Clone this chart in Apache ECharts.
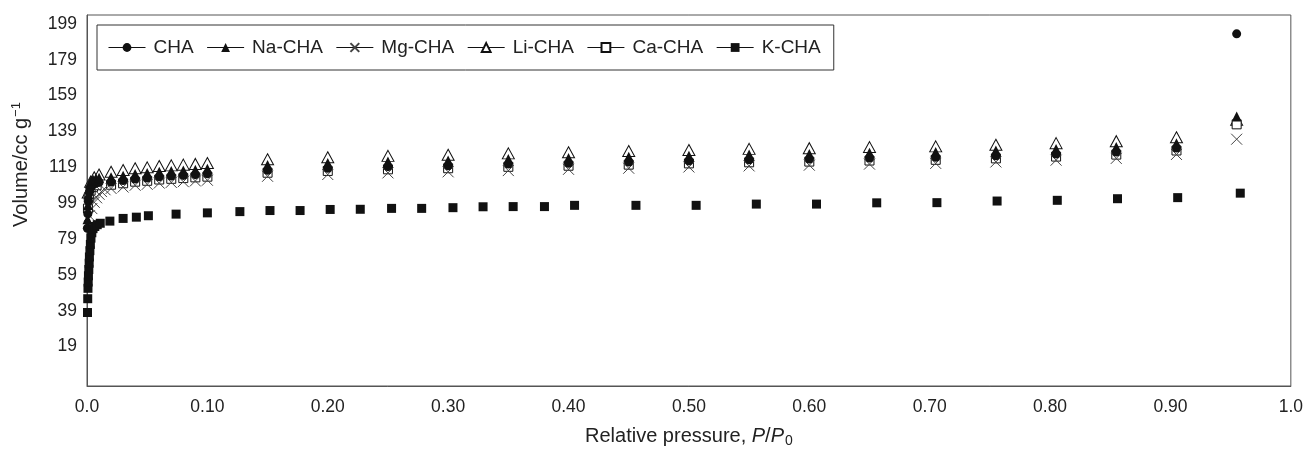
<!DOCTYPE html>
<html>
<head>
<meta charset="utf-8">
<script src="https://cdn.jsdelivr.net/npm/echarts@6/dist/echarts.min.js"></script>
<style>html,body{margin:0;padding:0;background:#fff}#c{width:1306px;height:453px}</style>
</head>
<body>
<div id="c"></div>
<script>
// ---- data ----
const seriesNames = ['CHA', 'Na-CHA', 'Mg-CHA', 'Li-CHA', 'Ca-CHA', 'K-CHA'];
const xTicks = [0, 0.1, 0.2, 0.3, 0.4, 0.5, 0.6, 0.7, 0.8, 0.9, 1.0];
const yTicks = [19, 39, 59, 79, 99, 119, 139, 159, 179, 199];

// common relative pressures of the upper five isotherms (after the low-pressure region)
const pMain = [0.02, 0.03, 0.04, 0.05, 0.06, 0.07, 0.08, 0.09, 0.10, 0.15, 0.20, 0.25, 0.30, 0.35, 0.40, 0.45, 0.50, 0.55, 0.60, 0.65, 0.705, 0.755, 0.805, 0.855, 0.905, 0.955];

const chaLowP = [0.0003, 0.0007, 0.0012, 0.002, 0.003, 0.0045, 0.007, 0.01];
const chaLowV = [85, 93, 100, 105, 107.5, 109, 110, 110.6];
const chaMain = [110.8, 111.6, 112.5, 113.0, 113.7, 114.2, 114.5, 114.9, 115.4, 117.4, 118.5, 119.4, 119.9, 120.8, 121.3, 122.0, 122.6, 123.2, 123.6, 124.2, 124.6, 125.5, 126.4, 127.5, 129.8, 193.5];

const naLowP = [0.0004, 0.0008, 0.0012, 0.0018, 0.0025, 0.0035, 0.005, 0.0075, 0.01];
const naLowV = [90, 98, 104, 107.5, 110, 111.5, 112.2, 112.8, 113.2];
const naMain = [113.5, 114.3, 115.3, 115.8, 116.5, 116.9, 117.3, 117.7, 118.2, 120.3, 121.4, 122.2, 122.8, 123.6, 124.2, 124.9, 125.5, 126.1, 126.5, 127.1, 127.5, 128.4, 129.3, 130.4, 132.4, 147.3];

const mgLowP = [0.002, 0.004, 0.006, 0.008, 0.010, 0.012, 0.015];
const mgLowV = [92, 96, 99.5, 102, 104, 105.5, 106.5];
const mgMain = [107.2, 108.0, 109.0, 109.5, 110.2, 110.6, 111.0, 111.4, 111.8, 114.0, 115.0, 115.9, 116.5, 117.2, 117.9, 118.5, 119.2, 119.8, 120.2, 120.8, 121.2, 122.0, 123.0, 124.0, 126.2, 134.7];

const liLowP = [0.001, 0.003, 0.006, 0.01];
const liLowV = [105, 111, 113.5, 115];
const liMain = [116.5, 117.5, 118.5, 119.0, 119.7, 120.1, 120.5, 120.9, 121.4, 123.5, 124.6, 125.4, 126.0, 126.8, 127.4, 128.1, 128.7, 129.3, 129.7, 130.3, 130.7, 131.6, 132.5, 133.6, 135.8, 145.5];

const caLowP = [0.0008, 0.0015, 0.003, 0.005, 0.008];
const caLowV = [96, 102, 106, 108, 109];
const caMain = [109.3, 110.1, 111.0, 111.5, 112.2, 112.6, 113.0, 113.4, 113.8, 116.0, 117.0, 117.9, 118.5, 119.3, 119.9, 120.5, 121.2, 121.8, 122.2, 122.8, 123.2, 124.0, 125.0, 126.1, 128.4, 143.0];

const kP = [0.0004, 0.0006, 0.0008, 0.001, 0.0012, 0.0015, 0.0018, 0.002, 0.0024, 0.0028, 0.0033, 0.004, 0.005, 0.0065, 0.0085, 0.011,
  0.019, 0.030, 0.041, 0.051, 0.074, 0.100, 0.127, 0.152, 0.177, 0.202, 0.227, 0.253, 0.278, 0.304, 0.329, 0.354, 0.380, 0.405,
  0.456, 0.506, 0.556, 0.606, 0.656, 0.706, 0.756, 0.806, 0.856, 0.906, 0.958];
const kV = [38, 45.7, 51.5, 55, 58.5, 62, 65.5, 69, 72.5, 76, 79.5, 82.5, 84.8, 86, 87, 87.8,
  89.0, 90.5, 91.2, 92.0, 92.9, 93.6, 94.3, 94.9, 94.9, 95.5, 95.6, 96.1, 96.1, 96.5, 97.0, 97.1, 97.1, 97.8,
  97.8, 97.8, 98.5, 98.5, 99.2, 99.3, 100.2, 100.6, 101.5, 102.1, 104.6];

// ---- build ----
function pairs(ps, vs) { return ps.map((p, i) => [p, vs[i]]); }
const crossPath = 'path://M0,0 L10,10 M10,0 L0,10';

function mk(name, data, symbol, size, itemStyle) {
  return {
    name, type: 'line', data, symbol, symbolSize: size, showSymbol: true, showAllSymbol: true,
    lineStyle: { width: 0, opacity: 0 }, itemStyle, clip: false,
    emphasis: { disabled: true }, animation: false
  };
}

const series = [
  mk('Li-CHA', pairs(liLowP, liLowV).concat(pairs(pMain, liMain)), 'triangle', [12, 11], { color: '#fff', borderColor: '#111', borderWidth: 1, opacity: 1 }),
  mk('Ca-CHA', pairs(caLowP, caLowV).concat(pairs(pMain, caMain)), 'rect', 9, { color: '#fff', borderColor: '#111', borderWidth: 1, opacity: 1 }),
  mk('Mg-CHA', pairs(mgLowP, mgLowV).concat(pairs(pMain, mgMain)), crossPath, 11, { color: 'none', borderColor: '#444', borderWidth: 1, opacity: 1 }),
  mk('CHA', pairs(chaLowP, chaLowV).concat(pairs(pMain, chaMain)), 'circle', 9, { color: '#111', borderWidth: 0, opacity: 1 }),
  mk('Na-CHA', pairs(naLowP, naLowV).concat(pairs(pMain, naMain)), 'triangle', 10, { color: '#111', borderWidth: 0, opacity: 1 }),
  mk('K-CHA', pairs(kP, kV), 'rect', 9, { color: '#111', borderWidth: 0, opacity: 1 })
];

const chart = echarts.init(document.getElementById('c'), null, { renderer: 'canvas' });
chart.setOption({
  animation: false,
  backgroundColor: '#fff',
  textStyle: { fontFamily: 'Liberation Sans, Arial, sans-serif' },
  grid: { left: 87, right: 14, top: 15, bottom: 65, show: true, borderColor: '#555', borderWidth: 1, backgroundColor: 'transparent' },
  legend: {
    data: seriesNames,
    left: 97, top: 25,
    orient: 'horizontal',
    borderColor: '#333', borderWidth: 1, borderRadius: 0,
    padding: [13, 13, 13, 11],
    itemGap: 13, itemWidth: 37, itemHeight: 11,
    textStyle: { fontSize: 19, color: '#222', padding: [0, 0, 0, 3] },
    lineStyle: { color: '#111', width: 1, opacity: 1, type: 'solid' },
    selectedMode: false
  },
  xAxis: {
    type: 'value', min: 0, max: 1, interval: 0.1,
    axisLine: { show: true, onZero: false, lineStyle: { color: '#555', width: 1 } },
    axisTick: { show: false },
    splitLine: { show: false },
    axisLabel: {
      fontSize: 17.5, color: '#222', margin: 12,
      customValues: xTicks,
      formatter: v => (Math.abs(v) < 1e-9 ? '0.0' : Math.abs(v - 1) < 1e-9 ? '1.0' : v.toFixed(2))
    },
    name: '{n|Relative pressure, }{i|P}{n|/}{i|P}{sub|0}',
    nameLocation: 'middle', nameGap: 38,
    nameTextStyle: {
      rich: {
        n: { fontSize: 20, color: '#222' },
        i: { fontSize: 20, color: '#222', fontStyle: 'italic' },
        sub: { fontSize: 14, color: '#222', padding: [10, 0, 0, 1] }
      }
    }
  },
  yAxis: {
    type: 'value', min: -3, max: 204,
    axisLine: { show: true, onZero: false, lineStyle: { color: '#555', width: 1 } },
    axisTick: { show: false },
    splitLine: { show: false },
    axisLabel: { fontSize: 17.5, color: '#222', margin: 10, customValues: yTicks },
    name: '{n|Volume/cc g}{sup|−1}',
    nameLocation: 'middle', nameRotate: 90, nameGap: 54,
    nameTextStyle: {
      padding: [0, 0, 0, 72],
      rich: {
        n: { fontSize: 20, color: '#222' },
        sup: { fontSize: 13, color: '#222', padding: [0, 0, 10, 1] }
      }
    }
  },
  series
});
</script>
</body>
</html>
